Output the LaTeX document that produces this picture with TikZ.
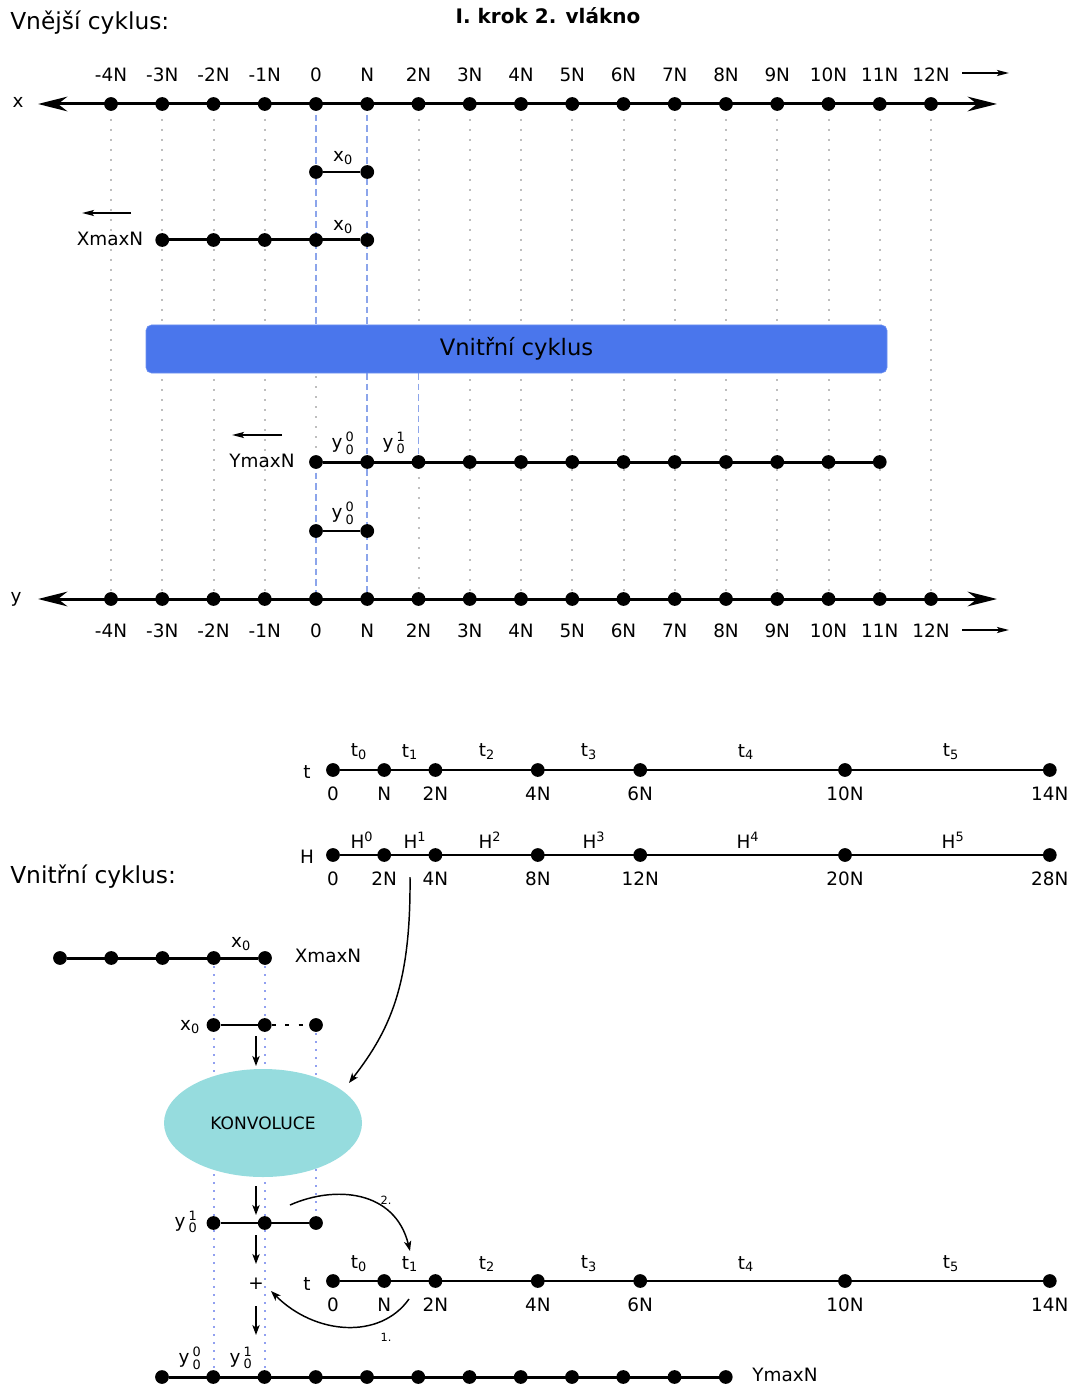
\documentclass[tikz,border=0pt]{standalone}
\usepackage{fontspec}
\setmainfont{DejaVu Sans}
\usepackage{amsmath}
\usetikzlibrary{arrows.meta,shapes.geometric}
\definecolor{boxblue}{RGB}{74,118,236}
\definecolor{dashblue}{RGB}{140,165,235}
\definecolor{dotgray}{RGB}{190,190,190}
\definecolor{konv}{RGB}{150,220,222}
\definecolor{dotblue}{RGB}{145,160,240}
\newcommand{\ysc}[2]{y\,$^{\text{#1}}_{\text{#2}}$}
\newcommand{\mysub}[2]{#1$_{\text{#2}}$}
\newcommand{\mysup}[2]{#1$^{\text{#2}}$}
\begin{document}
\begin{tikzpicture}[x=0.75pt,y=-0.75pt,
  dot/.style={circle,fill=black,inner sep=0pt,minimum size=10.3pt},
  lbl/.style={font=\fontsize{13.8}{16}\selectfont,inner sep=0pt},
  big/.style={font=\fontsize{17.5}{20}\selectfont,inner sep=0pt},
  axisline/.style={line width=2.25pt},
  rowthick/.style={line width=2.25pt},
  rowthin/.style={line width=1.4pt},
  gridgray/.style={draw=dotgray,line width=1.5pt,dash pattern=on 1.5pt off 6pt},
  gridblue/.style={draw=dashblue,line width=1.2pt,dash pattern=on 5pt off 3pt},
  guideblue/.style={draw=dotblue,line width=1.5pt,dash pattern=on 1.5pt off 4.5pt},
  bigarrow/.style={axisline,{Stealth[length=22pt,width=11pt,inset=7pt]}-{Stealth[length=22pt,width=11pt,inset=7pt]}},
  smallarrow/.style={line width=1.6pt,-{Stealth[length=9pt,width=4.5pt,inset=2pt]}},
  flowarrow/.style={line width=1.1pt,-{Stealth[length=7.5pt,width=5.5pt,inset=2pt]}},
]
\useasboundingbox (0,0) rectangle (1074,1387);

% headings
\node[big,anchor=west] (h1) at (10,23) {Vnější cyklus:};
\node[inner sep=0pt,font=\fontsize{15}{18}\selectfont\bfseries] (title) at (548,16) {I. krok 2. vlákno};

% ---------- guides ----------
\foreach \i in {0,1,2,3,7,8,9,10,11,12,13,14,15,16}
  \draw[gridgray] ({111+51.25*\i},109) -- ({111+51.25*\i},599);
\draw[gridgray] (418.5,109) -- (418.5,373);
\draw[gridgray] (418.5,467) -- (418.5,599);
\draw[gridgray] (316,376) -- (316,462);
\draw[gridblue] (316,104) -- (316,325);
\draw[gridblue] (316,462) -- (316,599);
\draw[gridblue] (367.25,104) -- (367.25,325);
\draw[gridblue] (367.25,373) -- (367.25,599);
\draw[gridblue] (418.5,373) -- (418.5,462);

% ---------- top x axis ----------
\coordinate (xL) at (38,104);
\coordinate (xR) at (997,104);
\draw[bigarrow] (xL) -- (xR);
\node[lbl] (xname) at (18,102) {x};
\foreach \i/\t in {0/-4N,1/-3N,2/-2N,3/-1N,4/0,5/N,6/2N,7/3N,8/4N,9/5N,10/6N,11/7N,12/8N,13/9N,14/10N,15/11N,16/12N}{
  \node[dot] (tx\i) at ({111+51.25*\i},104) {};
  \node[lbl] (txl\i) at ({111+51.25*\i},75) {\t};
}
\coordinate (ra1) at (962,73);
\coordinate (ra2) at (1009,73);
\draw[smallarrow] (ra1) -- (ra2);

% ---------- x0 row ----------
\node[dot] (a1) at (316,172) {};
\node[dot] (a2) at (367.25,172) {};
\draw[rowthin] (a1) -- (a2);
\node[lbl] (a0l) at (343,158) {\mysub{x}{0}};

% ---------- XmaxN row ----------
\foreach \i in {1,...,5} \node[dot] (b\i) at ({111+51.25*\i},240) {};
\draw[rowthick] (b1) -- (b5);
\node[lbl] (b0l) at (343,227) {\mysub{x}{0}};
\node[lbl] (bname) at (110,239) {XmaxN};
\coordinate (ba1) at (131,213);
\coordinate (ba2) at (82,213);
\draw[smallarrow] (ba1) -- (ba2);

% ---------- inner cycle box ----------
\node[draw=boxblue!80!white,fill=boxblue,rounded corners=4pt,minimum width=555.75pt,minimum height=36pt,inner sep=0pt,font=\fontsize{17}{20}\selectfont] (inner) at (516.5,349) {Vnitřní cyklus};

% ---------- y row ----------
\foreach \i in {0,...,11} \node[dot] (c\i) at ({316+51.25*\i},462) {};
\draw[rowthick] (c0) -- (c11);
\node[lbl] (c0l) at (343,443) {\ysc{0}{0}};
\node[lbl] (c1l) at (394,443) {\ysc{1}{0}};
\node[lbl] (cname) at (262,461) {YmaxN};
\coordinate (ca1) at (282,435);
\coordinate (ca2) at (232,435);
\draw[smallarrow] (ca1) -- (ca2);

% ---------- y00 row ----------
\node[dot] (d1) at (316,531) {};
\node[dot] (d2) at (367.25,531) {};
\draw[rowthin] (d1) -- (d2);
\node[lbl] (d0l) at (343,513) {\ysc{0}{0}};

% ---------- bottom y axis ----------
\coordinate (yL) at (38,599);
\coordinate (yR) at (997,599);
\draw[bigarrow] (yL) -- (yR);
\node[lbl] (yname) at (16,599) {y};
\foreach \i/\t in {0/-4N,1/-3N,2/-2N,3/-1N,4/0,5/N,6/2N,7/3N,8/4N,9/5N,10/6N,11/7N,12/8N,13/9N,14/10N,15/11N,16/12N}{
  \node[dot] (ty\i) at ({111+51.25*\i},599) {};
  \node[lbl] (tyl\i) at ({111+51.25*\i},631) {\t};
}
\coordinate (rb1) at (962,630);
\coordinate (rb2) at (1009,630);
\draw[smallarrow] (rb1) -- (rb2);

% =============== inner cycle ===============
\node[big,anchor=west] (h2) at (10,877) {Vnitřní cyklus:};

% t axis
\foreach \i/\m/\t in {0/0/0,1/1/N,2/2/2N,3/4/4N,4/6/6N,5/10/10N,6/14/14N}{
  \node[dot] (t\i) at ({333+51.2*\m},770) {};
  \node[lbl] (tl\i) at ({333+51.2*\m},794) {\t};
}
\draw[rowthin] (t0) -- (t6);
\node[lbl] (tname) at (307,772) {t};
\foreach \x/\k in {359/0,410/1,487/2,589/3,746/4,951/5}
  \node[lbl] (tu\k) at (\x,752) {\mysub{t}{\k}};

% H axis
\foreach \i/\m/\t in {0/0/0,1/1/2N,2/2/4N,3/4/8N,4/6/12N,5/10/20N,6/14/28N}{
  \node[dot] (H\i) at ({333+51.2*\m},855) {};
  \node[lbl] (Hl\i) at ({333+51.2*\m},879) {\t};
}
\draw[rowthin] (H0) -- (H6);
\node[lbl] (Hname) at (307,857) {H};
\foreach \x/\k in {362/0,415/1,490/2,594/3,748/4,953/5}
  \node[lbl] (Hu\k) at (\x,840) {\mysup{H}{\k}};

% guides
\draw[guideblue] (213.5,958) -- (213.5,1377);
\draw[guideblue] (264.75,958) -- (264.75,1377);
\draw[guideblue] (316,1025) -- (316,1223);

% XmaxN row
\foreach \i in {0,...,4} \node[dot] (e\i) at ({60+51.25*\i},958) {};
\draw[rowthick] (e0) -- (e4);
\node[lbl] (e0l) at (241,944) {\mysub{x}{0}};
\node[lbl] (ename) at (328,956) {XmaxN};

% x0 row
\node[dot] (f1) at (213.5,1025) {};
\node[dot] (f2) at (264.75,1025) {};
\node[dot] (f3) at (316,1025) {};
\draw[rowthin] (f1) -- (f2);
\draw[rowthin,dash pattern=on 3pt off 7pt] (f2) -- (f3);
\node[lbl] (f0l) at (190,1027) {\mysub{x}{0}};

% convolution
\node[ellipse,fill=konv,minimum width=148.5pt,minimum height=81pt,inner sep=0pt,font=\fontsize{12.8}{14}\selectfont] (konv) at (263,1123) {KONVOLUCE};

% y10 row
\node[dot] (g1) at (213.5,1223) {};
\node[dot] (g2) at (264.75,1223) {};
\node[dot] (g3) at (316,1223) {};
\draw[rowthin] (g1) -- (g3);
\node[lbl] (g0l) at (186,1222) {\ysc{1}{0}};

% plus
\node[lbl] (plus) at (256,1284) {+};

% flow arrows
\coordinate (fa1) at (256,1036); \coordinate (fa2) at (256,1066);
\coordinate (fb1) at (256,1186); \coordinate (fb2) at (256,1215);
\coordinate (fc1) at (256,1235); \coordinate (fc2) at (256,1264);
\coordinate (fd1) at (256,1306); \coordinate (fd2) at (256,1335);
\draw[flowarrow] (fa1) -- (fa2);
\draw[flowarrow] (fb1) -- (fb2);
\draw[flowarrow] (fc1) -- (fc2);
\draw[flowarrow] (fd1) -- (fd2);

% second t axis
\foreach \i/\m/\t in {0/0/0,1/1/N,2/2/2N,3/4/4N,4/6/6N,5/10/10N,6/14/14N}{
  \node[dot] (s\i) at ({333+51.2*\m},1281) {};
  \node[lbl] (sl\i) at ({333+51.2*\m},1305) {\t};
}
\draw[rowthin] (s0) -- (s6);
\node[lbl] (sname) at (307,1284) {t};
\foreach \x/\k in {359/0,410/1,487/2,589/3,746/4,951/5}
  \node[lbl] (su\k) at (\x,1264) {\mysub{t}{\k}};

% bottom row
\foreach \i in {0,...,11} \node[dot] (r\i) at ({162+51.25*\i},1377) {};
\draw[rowthick] (r0) -- (r11);
\node[lbl] (r0l) at (190,1358) {\ysc{0}{0}};
\node[lbl] (r1l) at (241,1358) {\ysc{1}{0}};
\node[lbl] (rname) at (785,1375) {YmaxN};

% curved arrows
\coordinate (cv1) at (410,877);
\coordinate (cv2) at (349,1083);
\draw[flowarrow] (cv1) .. controls (411,985) and (390,1030) .. (cv2);
\coordinate (k2a) at (290,1205);
\coordinate (k2b) at (410,1251);
\draw[flowarrow] (k2a) .. controls (335,1185) and (395,1190) .. (k2b);
\node[inner sep=0pt,font=\fontsize{8.5}{9}\selectfont] (k2l) at (386,1200) {2.};
\coordinate (k1a) at (409,1299);
\coordinate (k1b) at (271,1291);
\draw[flowarrow] (k1a) .. controls (380,1340) and (315,1335) .. (k1b);
\node[inner sep=0pt,font=\fontsize{8.5}{9}\selectfont] (k1l) at (386,1337) {1.};
\end{tikzpicture}
\end{document}
